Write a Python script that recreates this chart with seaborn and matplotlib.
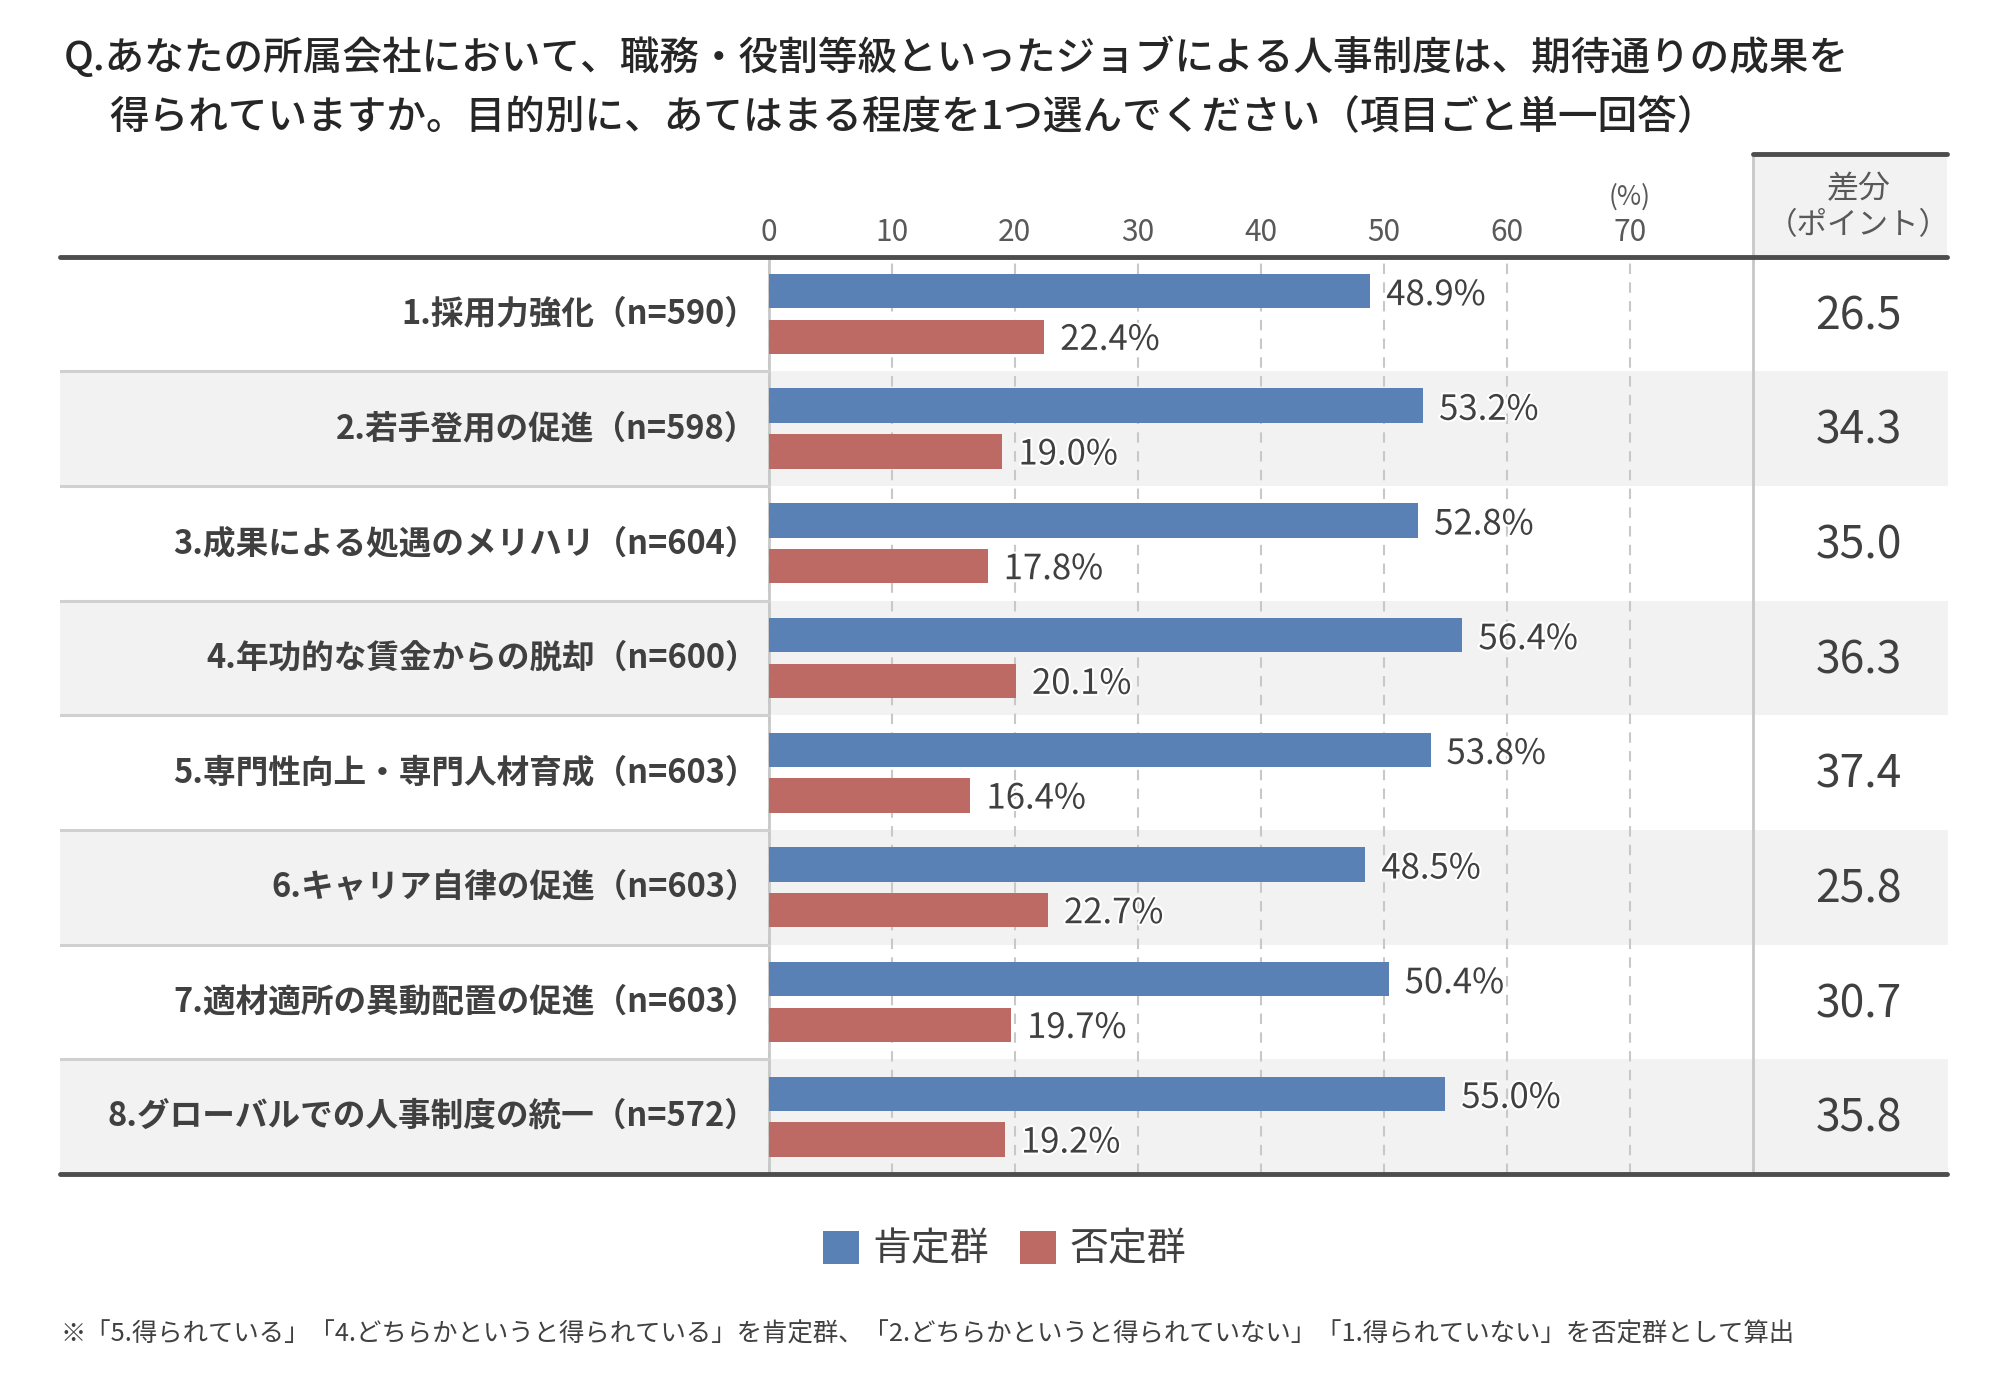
import matplotlib
matplotlib.use("Agg")
import matplotlib.pyplot as plt
import matplotlib.patheffects as pe
from matplotlib.lines import Line2D
from matplotlib.patches import Rectangle
import seaborn as sns
import pandas as pd

# ---------------- data ----------------
categories = [
    "1.採用力強化（n=590）",
    "2.若手登用の促進（n=598）",
    "3.成果による処遇のメリハリ（n=604）",
    "4.年功的な賃金からの脱却（n=600）",
    "5.専門性向上・専門人材育成（n=603）",
    "6.キャリア自律の促進（n=603）",
    "7.適材適所の異動配置の促進（n=603）",
    "8.グローバルでの人事制度の統一（n=572）",
]
positive = [48.9, 53.2, 52.8, 56.4, 53.8, 48.5, 50.4, 55.0]
negative = [22.4, 19.0, 17.8, 20.1, 16.4, 22.7, 19.7, 19.2]
diff_points = [26.5, 34.3, 35.0, 36.3, 37.4, 25.8, 30.7, 35.8]
group_names = ["肯定群", "否定群"]
x_ticks = [0, 10, 20, 30, 40, 50, 60, 70]

title_1 = "Q.あなたの所属会社において、職務・役割等級といったジョブによる人事制度は、期待通りの成果を"
title_2 = "得られていますか。目的別に、あてはまる程度を1つ選んでください（項目ごと単一回答）"
footnote = "※「5.得られている」「4.どちらかというと得られている」を肯定群、「2.どちらかというと得られていない」「1.得られていない」を否定群として算出"
diff_header_1 = "差分"
diff_header_2 = "（ポイント）"

# ---------------- style ----------------
sns.set_theme(style="white")
plt.rcParams["font.family"] = ["Noto Sans CJK JP", "DejaVu Sans"]

BLUE = "#5981b5"
RED = "#bc6a63"
TXT = "#404040"
GRID = "#c8c8c8"
BAND = "#f2f2f2"
DARK = "#4d4d4d"

df = pd.DataFrame({
    "category": categories * 2,
    "group": [group_names[0]] * len(categories) + [group_names[1]] * len(categories),
    "value": positive + negative,
})

fig = plt.figure(figsize=(20.09, 13.96), dpi=100)
W, H = 1568.0, 1088.0
ax = fig.add_axes([47 / W, 1 - 915 / H, (1520 - 47) / W, (915 - 200) / H])

sns.barplot(data=df, y="category", x="value", hue="group", order=categories,
            hue_order=group_names, palette=[BLUE, RED], saturation=1, orient="h",
            width=0.8, gap=0.25, linewidth=0, ax=ax, legend=True, zorder=3)

XL, XR = -57.6, 95.83
XD = 88.6  # centre of the difference column
ax.set_xlim(XL, XR)
ax.set_ylim(7.5, -0.5)
ax.set_xlabel("")
ax.set_ylabel("")
for s in ax.spines.values():
    s.set_visible(False)

handles, labels = ax.get_legend_handles_labels()
if ax.get_legend() is not None:
    ax.get_legend().remove()

# row bands
for i in range(len(categories)):
    if i % 2 == 1:
        ax.axhspan(i - 0.5, i + 0.5, color=BAND, zorder=0.1, lw=0)

# x ticks on top + dashed grid
ax.set_xticks(x_ticks)
ax.set_xticklabels([str(t) for t in x_ticks])
ax.xaxis.set_ticks_position("top")
ax.tick_params(axis="x", length=0, pad=6, labelsize=21.5, labelcolor="#595959")
ax.set_yticks([])
ax.set_axisbelow(True)
ax.grid(axis="x", color=GRID, linestyle=(0, (5, 4)), linewidth=1.5, zorder=0.5)
ax.grid(axis="y", visible=False)

# solid lines at 0 and 80
ax.axvline(0, color=GRID, lw=2, zorder=1)
ax.add_line(Line2D([80, 80], [-1.395, 7.5], color=GRID, lw=2, clip_on=False, zorder=1))

# label column separators
for i in range(len(categories) - 1):
    ax.add_line(Line2D([XL, 0], [i + 0.5, i + 0.5], color="#d0d0d0", lw=2.2, zorder=1))

# top & bottom thick rules
ax.add_line(Line2D([XL, XR], [-0.5, -0.5], color=DARK, lw=3.5, clip_on=False, zorder=4))
ax.add_line(Line2D([XL, XR], [7.5, 7.5], color=DARK, lw=3.5, clip_on=False, zorder=4))

# header box for differences
ax.add_patch(Rectangle((80, -1.395), XR - 80, 0.895, facecolor=BAND, edgecolor="none",
                       clip_on=False, zorder=0.1))
ax.add_line(Line2D([80, XR], [-1.395, -1.395], color=DARK, lw=3.5, clip_on=False, zorder=4))
ax.text(XD, -1.09, diff_header_1, ha="center", va="center", fontsize=23,
        color="#595959", clip_on=False)
ax.text(XD, -0.775, diff_header_2, ha="center", va="center", fontsize=22,
        color="#595959", clip_on=False)
ax.text(70, -1.02, "(%)", ha="center", va="center", fontsize=19, color="#595959", clip_on=False)

# category labels, value labels, diff values
stroke = [pe.withStroke(linewidth=3, foreground="white")]
for i, cat in enumerate(categories):
    ax.text(-0.9, i, cat, ha="right", va="center", fontsize=23.5, fontweight="bold", color=TXT)
    ax.text(positive[i] + 1.3, i - 0.16, f"{positive[i]:.1f}%", ha="left", va="center",
            fontsize=25, color=TXT, path_effects=stroke, zorder=5)
    ax.text(negative[i] + 1.3, i + 0.23, f"{negative[i]:.1f}%", ha="left", va="center",
            fontsize=25, color=TXT, path_effects=stroke, zorder=5)
    ax.text(XD, i + 0.02, f"{diff_points[i]:.1f}", ha="center", va="center",
            fontsize=32, color=TXT)

# titles
fig.text(50 / W, 1 - 45 / H, title_1, ha="left", va="center", fontsize=28.5,
         fontweight="medium", color="#262626")
fig.text(85 / W, 1 - 92 / H, title_2, ha="left", va="center", fontsize=28.5,
         fontweight="medium", color="#262626")

# legend
fig.legend(handles, labels, loc="center", bbox_to_anchor=(784 / W, 1 - 974 / H), ncol=2,
           frameon=False, fontsize=28, handlelength=0.92, handleheight=0.92,
           handletextpad=0.35, columnspacing=0.8, labelcolor=TXT)

# footnote
fig.text(47 / W, 1 - 1040 / H, footnote, ha="left", va="center", fontsize=18.3, color=TXT)

fig.savefig("out.png", dpi=100)
